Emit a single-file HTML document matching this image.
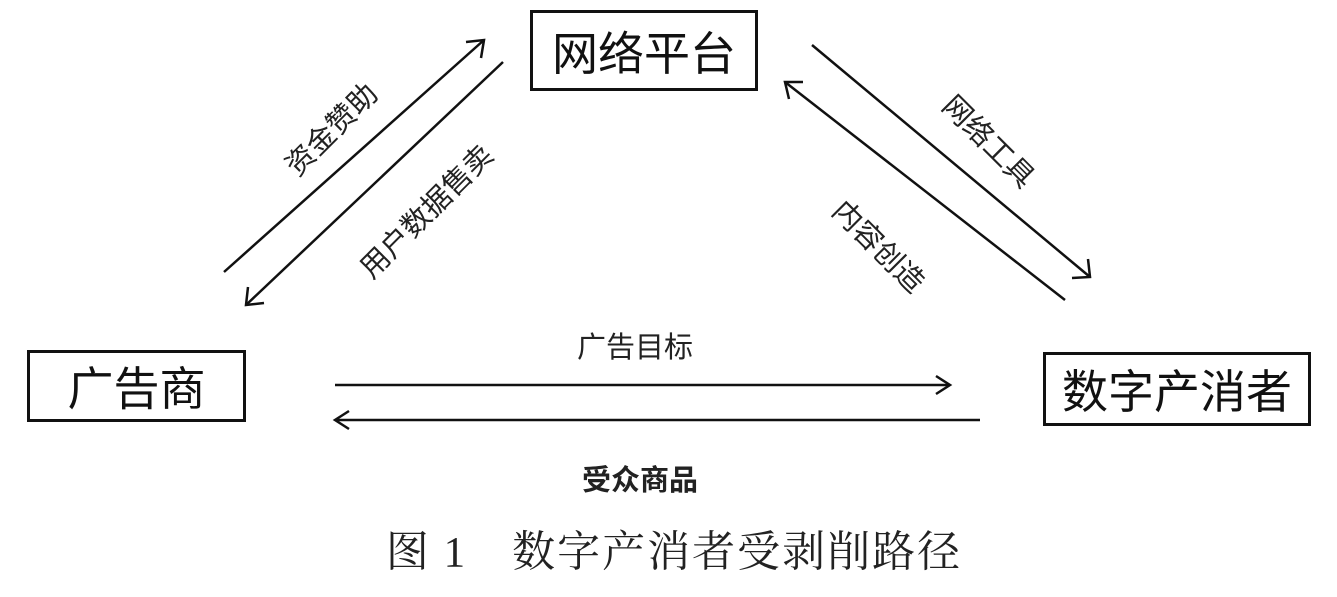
<!DOCTYPE html>
<html><head><meta charset="utf-8"><style>
body{margin:0;background:#fff;width:1337px;height:597px;overflow:hidden;position:relative;font-family:"Liberation Sans","Noto Sans CJK SC",sans-serif;color:#111}
.box{position:absolute;border:3px solid #111;box-sizing:border-box;display:flex;align-items:center;justify-content:center;font-size:46px}
.t{position:absolute;white-space:nowrap;transform:translate(-50%,-50%);font-size:29px;color:#222}
</style></head><body>
<div class="box" style="left:530px;top:10px;width:228px;height:81px">网络平台</div>
<div class="box" style="left:27px;top:350px;width:219px;height:72px">广告商</div>
<div class="box" style="left:1043px;top:352px;width:268px;height:74px">数字产消者</div>
<svg width="1337" height="597" style="position:absolute;left:0;top:0">
<g stroke="#111" stroke-width="2.5" fill="none">
<line x1="224" y1="272" x2="484" y2="40"/><polyline points="466,42 484,40 481,58"/>
<line x1="503" y1="62" x2="246" y2="305"/><polyline points="248,287 246,305 264,303"/>
<line x1="812" y1="45" x2="1090" y2="277"/><polyline points="1072,278 1090,277 1088,259"/>
<line x1="1065" y1="300" x2="785" y2="82"/><polyline points="803,82 785,82 789,99"/>
<line x1="335" y1="385" x2="950" y2="385"/><polyline points="936,376 950,385 936,394"/>
<line x1="980" y1="420" x2="335" y2="420"/><polyline points="349,411 335,420 349,429"/>
</g></svg>
<div class="t" style="left:330px;top:128px;transform:translate(-50%,-50%) rotate(-45deg)">资金赞助</div>
<div class="t" style="left:425px;top:210px;transform:translate(-50%,-50%) rotate(-45deg)">用户数据售卖</div>
<div class="t" style="left:990px;top:140px;transform:translate(-50%,-50%) rotate(45deg)">网络工具</div>
<div class="t" style="left:880px;top:245px;transform:translate(-50%,-50%) rotate(45deg)">内容创造</div>
<div class="t" style="left:635px;top:345px">广告目标</div>
<div class="t" style="left:640px;top:478px;font-weight:bold">受众商品</div>
<div class="t" style="left:674px;top:549px;font-size:43px;letter-spacing:2px;font-family:'Liberation Serif','Noto Serif CJK SC',serif">图 1　数字产消者受剥削路径</div>
</body></html>
